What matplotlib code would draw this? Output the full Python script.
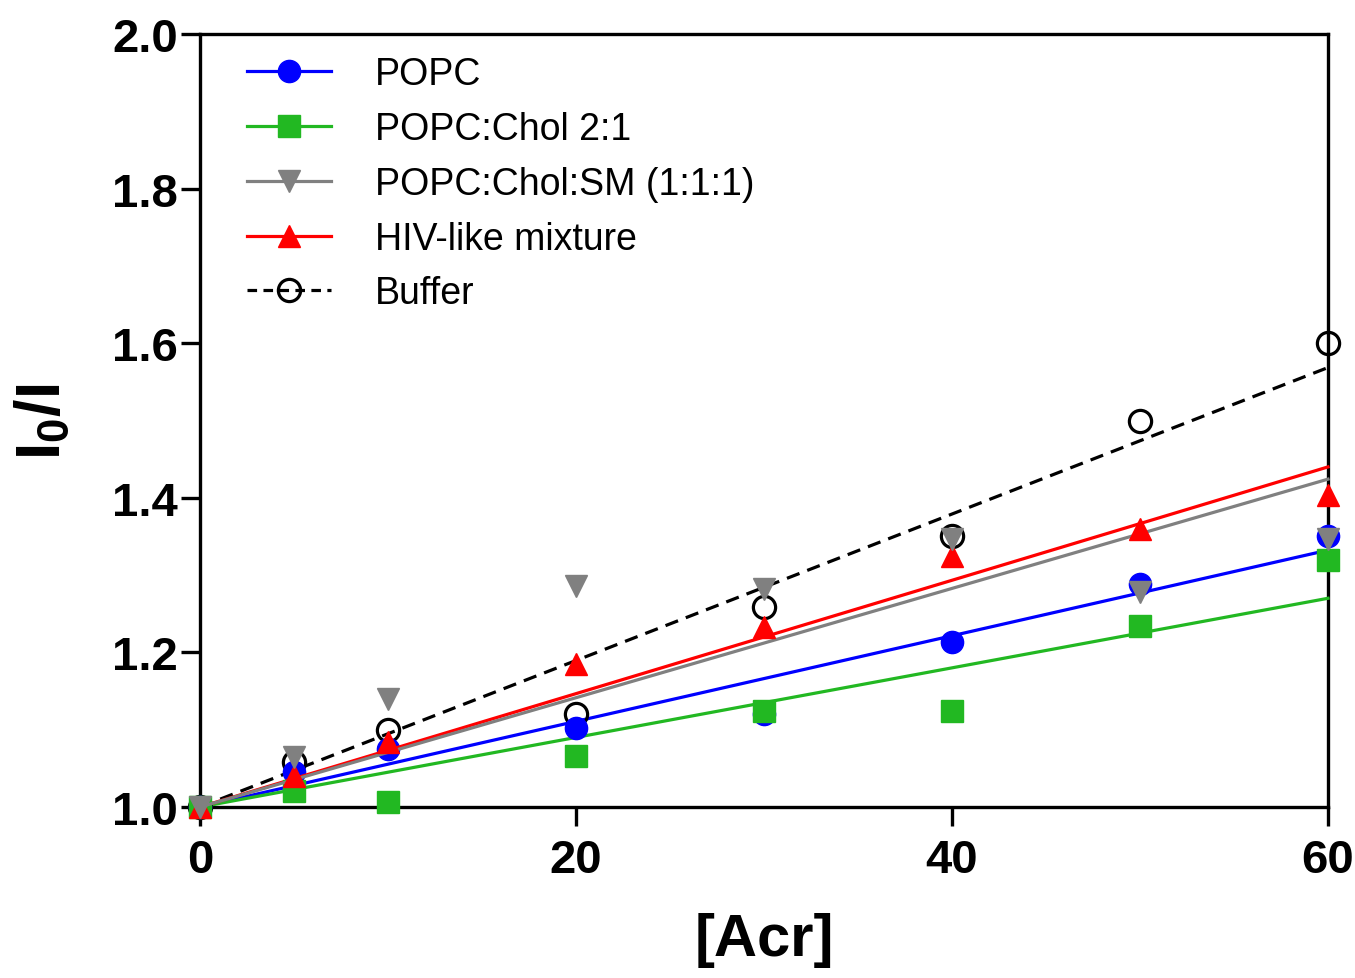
import numpy as np
import matplotlib
matplotlib.use("Agg")
import matplotlib.pyplot as plt

plt.rcParams['font.family'] = ['Liberation Sans', 'DejaVu Sans']
plt.rcParams['mathtext.fontset'] = 'custom'
plt.rcParams['mathtext.rm'] = 'Liberation Sans:bold'
plt.rcParams['mathtext.bf'] = 'Liberation Sans:bold'
plt.rcParams['mathtext.it'] = 'Liberation Sans:bold'

# acrylamide concentration
acr = [0, 5, 10, 20, 30, 40, 50, 60]

popc = [1.0, 1.045, 1.075, 1.102, 1.12, 1.213, 1.288, 1.35]
popc_chol = [1.0, 1.021, 1.006, 1.066, 1.124, 1.124, 1.234, 1.32]
popc_chol_sm = [1.0, 1.065, 1.14, 1.286, 1.282, 1.347, 1.278, 1.347]
hiv_like = [1.0, 1.04, 1.084, 1.185, 1.233, 1.325, 1.36, 1.403]
buffer = [1.0, 1.058, 1.10, 1.12, 1.259, 1.35, 1.50, 1.60]

labels = ['POPC', 'POPC:Chol 2:1', 'POPC:Chol:SM (1:1:1)',
          'HIV-like mixture', 'Buffer']
series = [popc, popc_chol, popc_chol_sm, hiv_like, buffer]
colors = ['#0000ff', '#22b822', '#808080', '#ff0000', 'black']
markers = ['o', 's', 'v', '^', 'o']
zorders = [4, 5, 7, 6, 3]

fig = plt.figure(figsize=(13.55, 9.79), dpi=100)
ax = fig.add_axes([200/1355, 1 - 808/979, 1128/1355, 773/979])

x = np.array(acr, dtype=float)
handles = []
for lab, y, c, m, z in zip(labels, series, colors, markers, zorders):
    y = np.array(y)
    # Stern-Volmer fit through (0, 1)
    ksv = np.sum(x * (y - 1)) / np.sum(x * x)
    xf = np.array([0, 60.0])
    ls = '--' if lab == 'Buffer' else '-'
    ln, = ax.plot(xf, 1 + ksv * xf, ls, color=c, lw=2.3, zorder=z - 2,
                  clip_on=False)
    if lab == 'Buffer':
        ln.set_dashes((4.2, 2.6))
        ax.plot(x, y, m, ms=16, mfc='none', mec=c, mew=2.3, zorder=z,
                clip_on=False)
        h, = ax.plot([], [], m, ls=(0, (3, 2)), color=c, lw=2.3,
                     ms=16, mfc='none', mec=c, mew=2.3)
    else:
        ax.plot(x, y, m, ms=16, color=c, mec=c, zorder=z, clip_on=False)
        h, = ax.plot([], [], m, ls='-', color=c, lw=2.3, ms=16)
    handles.append(h)

ax.set_xlim(0, 60)
ax.set_ylim(1.0, 2.0)
ax.set_xticks([0, 20, 40, 60])
ax.set_yticks([1.0, 1.2, 1.4, 1.6, 1.8, 2.0])
ax.set_yticklabels(['1.0', '1.2', '1.4', '1.6', '1.8', '2.0'])
for s in ax.spines.values():
    s.set_linewidth(2.4)
ax.tick_params(direction='out', length=14, width=2.4, labelsize=34)
ax.tick_params(axis='y', pad=2)
ax.tick_params(axis='x', pad=8)
for t in ax.get_xticklabels() + ax.get_yticklabels():
    t.set_fontweight('bold')

ax.set_xlabel('[Acr]', fontsize=43, fontweight='bold', labelpad=22)
ax.set_ylabel('I$_{0}$/I', fontsize=45, fontweight='bold', labelpad=28)

ax.legend(handles, labels, loc='upper left', bbox_to_anchor=(0.042, 0.971),
          frameon=False, fontsize=27, handlelength=2.24, handletextpad=1.15,
          labelspacing=0.5, borderpad=0, borderaxespad=0)

fig.savefig('out.png', dpi=100)
